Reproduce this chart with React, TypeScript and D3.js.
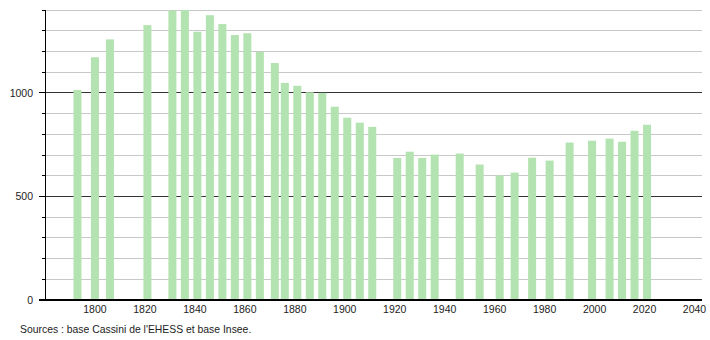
import React from "react";
import * as d3 from "d3";

const years = [1793, 1800, 1806, 1821, 1831, 1836, 1841, 1846, 1851, 1856, 1861, 1866, 1872, 1876, 1881, 1886, 1891, 1896, 1901, 1906, 1911, 1921, 1926, 1931, 1936, 1946, 1954, 1962, 1968, 1975, 1982, 1990, 1999, 2006, 2011, 2016, 2021];
const population = [1014, 1172, 1258, 1327, 1398, 1400, 1295, 1375, 1332, 1279, 1288, 1197, 1144, 1048, 1034, 1003, 1000, 933, 880, 856, 836, 686, 716, 686, 702, 707, 654, 601, 615, 687, 673, 760, 769, 779, 764, 817, 846];
const xTicks = [1800, 1820, 1840, 1860, 1880, 1900, 1920, 1940, 1960, 1980, 2000, 2020, 2040];
const yLabels = [0, 500, 1000];
const sourceText = "Sources : base Cassini de l'EHESS et base Insee.";

export default function App() {
  const W = 710, H = 340;
  const left = 45, right = 702, top = 10, bottom = 300;
  const x = d3.scaleLinear().domain([1780, 2043]).range([left, right]);
  const y = d3.scaleLinear().domain([0, 1400]).range([bottom, top]);
  const minor = d3.range(0, 1401, 100);
  const barW = 8;
  const font = "'Liberation Sans', Arial, sans-serif";
  return (
    <svg width={W} height={H} style={{ position: "absolute", left: 0, top: 0, background: "#fff" }}>
      {minor.map((v) => (
        <line key={"g" + v} x1={left} x2={right} y1={y(v)} y2={y(v)}
          stroke={v % 500 === 0 ? "#333" : "#c8c8c8"} strokeWidth={1} shapeRendering="crispEdges" />
      ))}
      {minor.map((v) => (
        <line key={"t" + v} x1={v % 500 === 0 ? 39 : 42} x2={left} y1={y(v)} y2={y(v)}
          stroke="#000" strokeWidth={1} shapeRendering="crispEdges" />
      ))}
      {years.map((yr, i) => (
        <rect key={yr} x={x(yr) - barW / 2} y={y(population[i])} width={barW}
          height={y(0) - y(population[i])} fill="#b3e3b0" />
      ))}
      <line x1={left} x2={left} y1={top} y2={bottom} stroke="#000" strokeWidth={1} shapeRendering="crispEdges" />
      <line x1={39} x2={right} y1={bottom} y2={bottom} stroke="#000" strokeWidth={1.2} shapeRendering="crispEdges" />
      {yLabels.map((v) => (
        <text key={"yl" + v} x={33} y={y(v) + 4} textAnchor="end" fontFamily={font} fontSize={10.5} fill="#222">{v}</text>
      ))}
      {xTicks.map((t) => (
        <text key={"xl" + t} x={x(t)} y={313} textAnchor="middle" fontFamily={font} fontSize={10.5} fill="#222">{t}</text>
      ))}
      <text x={20} y={333} fontFamily={font} fontSize={10.4} fill="#222">{sourceText}</text>
    </svg>
  );
}
